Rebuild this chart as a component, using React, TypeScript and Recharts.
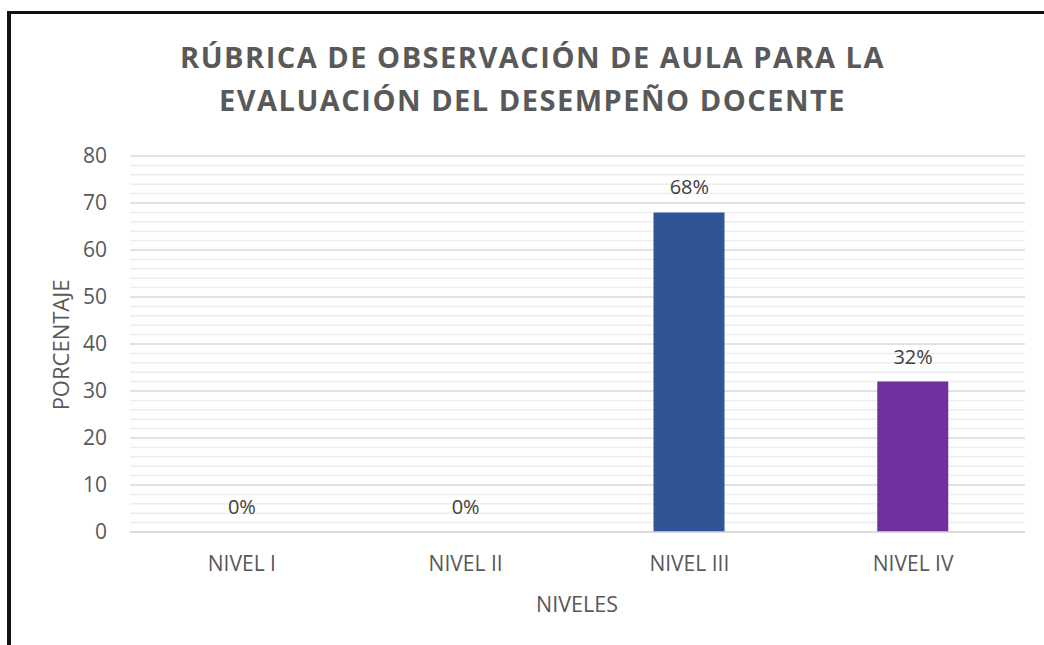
import React from "react";
import { ComposedChart, Bar, Line, XAxis, YAxis, CartesianGrid, Cell, LabelList, ReferenceLine } from "recharts";

const categories = ["NIVEL I", "NIVEL II", "NIVEL III", "NIVEL IV"];
const values = [0, 0, 68, 32];
const barColors = ["#4472C4", "#ED7D31", "#2F5597", "#7030A0"];
const majorTicks = [0, 10, 20, 30, 40, 50, 60, 70, 80];
const minorTicks = [2, 4, 6, 8, 12, 14, 16, 18, 22, 24, 26, 28, 32, 34, 36, 38, 42, 44, 46, 48, 52, 54, 56, 58, 62, 64, 66, 68, 72, 74, 76, 78];
const titleLines = ["RÚBRICA DE OBSERVACIÓN DE AULA PARA LA", "EVALUACIÓN DEL DESEMPEÑO DOCENTE"];

const data = categories.map((name, i) => ({ name, value: values[i] }));

const FONT = "'Open Sans', sans-serif";
const MARGIN = { top: 156, right: 19, bottom: 73, left: 70 };

export default function App() {
  return (
    <div style={{ position: "absolute", left: 0, top: 0, width: 1044, height: 645, background: "#fff", fontFamily: FONT, overflow: "hidden" }}>
      <div style={{ position: "absolute", left: 7, top: 11, width: 1100, height: 700, borderLeft: "4px solid #111", borderTop: "3px solid #111" }} />
      {titleLines.map((t, i) => (
        <div key={i} style={{ position: "absolute", left: 0, width: 1065, top: 35 + i * 43, textAlign: "center", fontSize: 29, fontWeight: 700, color: "#595959", lineHeight: "43px", letterSpacing: 1.5, whiteSpace: "nowrap" }}>{t}</div>
      ))}
      <div style={{ position: "absolute", left: 60, top: 345, transform: "translate(-50%, -50%) rotate(-90deg)", fontSize: 22, color: "#595959", whiteSpace: "nowrap", lineHeight: "24px" }}>PORCENTAJE</div>
      <div style={{ position: "absolute", left: 577, top: 604, transform: "translate(-50%, -50%)", fontSize: 21.5, color: "#595959", whiteSpace: "nowrap", lineHeight: "24px" }}>NIVELES</div>
      {/* minor gridlines layer */}
      <div style={{ position: "absolute", left: 0, top: 0 }}>
        <ComposedChart width={1044} height={645} data={data} margin={MARGIN}>
          <XAxis dataKey="name" axisLine={false} tickLine={false} tick={{ fill: "transparent", fontSize: 1 }} height={40} />
          <YAxis domain={[0, 80]} ticks={majorTicks} axisLine={false} tickLine={false} tick={{ fill: "transparent", fontSize: 1 }} width={60} />
          {minorTicks.map((v) => (
            <ReferenceLine key={v} y={v} stroke="#EDEDED" strokeWidth={1.5} ifOverflow="visible" />
          ))}
          <Bar dataKey="value" fillOpacity={0} barSize={71} isAnimationActive={false} />
        </ComposedChart>
      </div>
      {/* main chart */}
      <div style={{ position: "absolute", left: 0, top: 0 }}>
        <ComposedChart width={1044} height={645} data={data} margin={MARGIN}>
          <CartesianGrid vertical={false} stroke="#D9D9D9" strokeWidth={1.5} />
          <XAxis dataKey="name" axisLine={{ stroke: "#D9D9D9", strokeWidth: 1.5 }} tickLine={false} tickSize={0} tickMargin={24} tick={{ fill: "#595959", fontSize: 21, fontFamily: FONT }} height={40} />
          <YAxis domain={[0, 80]} ticks={majorTicks} axisLine={false} tickLine={false} tickSize={0} tickMargin={23} width={60} tick={{ fill: "#595959", fontSize: 21, fontFamily: FONT }} />
          <Bar dataKey="value" barSize={71} isAnimationActive={false}>
            {data.map((d, i) => (
              <Cell key={d.name} fill={barColors[i]} />
            ))}
          </Bar>
          <Line dataKey="value" stroke="none" dot={false} activeDot={false} isAnimationActive={false} legendType="none">
            <LabelList dataKey="value" position="top" offset={18} formatter={(v: any) => `${v}%`} style={{ fill: "#404040", fontSize: 20, fontFamily: FONT }} />
          </Line>
        </ComposedChart>
      </div>
    </div>
  );
}
